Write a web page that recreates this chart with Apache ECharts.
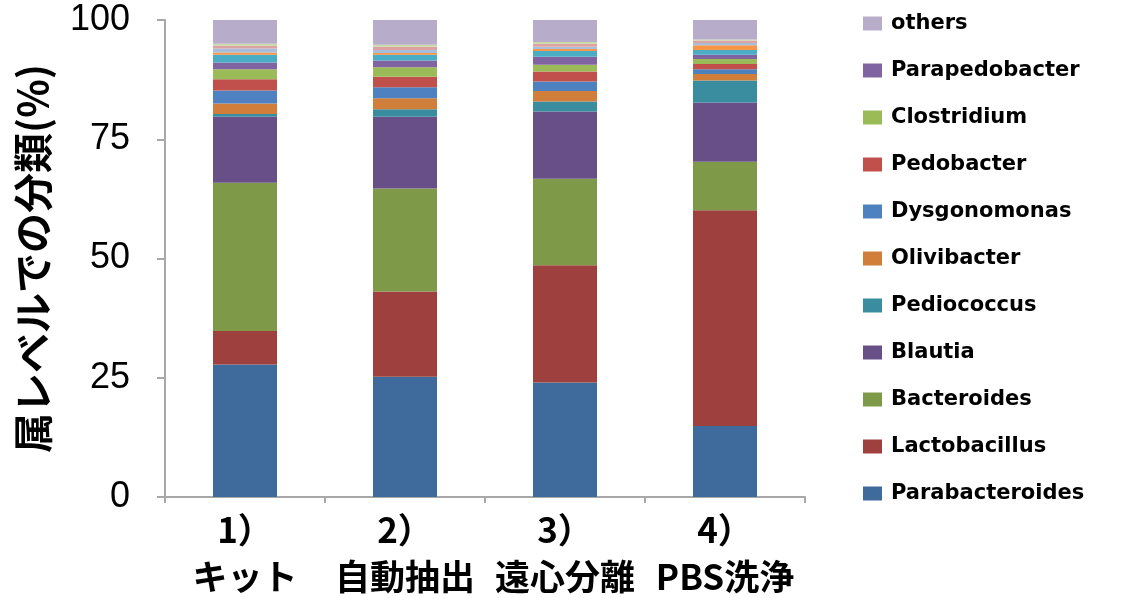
<!DOCTYPE html>
<html>
<head>
<meta charset="utf-8">
<script src="https://cdn.jsdelivr.net/npm/echarts@6/dist/echarts.min.js"></script>
<style>
  html, body { margin: 0; padding: 0; background: #fff; }
  #chart { width: 1124px; height: 598px; }
</style>
</head>
<body>
<div id="chart"></div>
<script>
// Genus-level composition (%) for four sample preparation methods
const categories = ['1）\nキット', '2）\n自動抽出', '3）\n遠心分離', '4）\nPBS洗浄'];
const yTicks = [0, 25, 50, 75, 100];

const parabacteroides = [27.8, 25.2, 24.0, 14.9];
const lactobacillus   = [7.0, 17.9, 24.6, 45.2];
const bacteroides     = [31.1, 21.6, 18.1, 10.2];
const blautia         = [13.8, 15.0, 14.1, 12.4];
const pediococcus     = [0.6, 1.6, 2.1, 4.6];
const olivibacter     = [2.2, 2.3, 2.2, 1.4];
const dysgonomonas    = [2.7, 2.3, 2.0, 1.0];
const pedobacter      = [2.4, 2.2, 2.1, 1.1];
const clostridium     = [2.1, 2.0, 1.4, 1.0];
const parapedobacter  = [1.4, 1.4, 1.7, 0.9];
// smaller genera stacked below "others" without their own legend entry
const minorGenus1     = [1.6, 1.2, 1.2, 1.0];
const minorGenus2     = [0.5, 0.4, 0.4, 1.0];
const minorGenus3     = [0.8, 0.6, 0.5, 0.5];
const minorGenus4     = [0.6, 0.7, 0.6, 0.5];
const minorGenus5     = [0.4, 0.4, 0.4, 0.2];
const others          = [5.0, 5.2, 4.6, 4.1];

const stackOrder = [
  { name: 'Parabacteroides', data: parabacteroides, color: '#3F6A9C' },
  { name: 'Lactobacillus',   data: lactobacillus,   color: '#9E413E' },
  { name: 'Bacteroides',     data: bacteroides,     color: '#7E9A48' },
  { name: 'Blautia',         data: blautia,         color: '#694F87' },
  { name: 'Pediococcus',     data: pediococcus,     color: '#3A8C9F' },
  { name: 'Olivibacter',     data: olivibacter,     color: '#D17E3A' },
  { name: 'Dysgonomonas',    data: dysgonomonas,    color: '#4E81C0' },
  { name: 'Pedobacter',      data: pedobacter,      color: '#C1504D' },
  { name: 'Clostridium',     data: clostridium,     color: '#9BBB59' },
  { name: 'Parapedobacter',  data: parapedobacter,  color: '#8064A2' },
  { name: '',                data: minorGenus1,     color: '#4BACC6' },
  { name: '',                data: minorGenus2,     color: '#F79646' },
  { name: '',                data: minorGenus3,     color: '#A7BEDC' },
  { name: '',                data: minorGenus4,     color: '#DDA3A2' },
  { name: '',                data: minorGenus5,     color: '#C8D9A6' },
  { name: 'others',          data: others,          color: '#B8ACCB' }
];

const legendNames = ['others', 'Parapedobacter', 'Clostridium', 'Pedobacter', 'Dysgonomonas',
  'Olivibacter', 'Pediococcus', 'Blautia', 'Bacteroides', 'Lactobacillus', 'Parabacteroides'];

const chart = echarts.init(document.getElementById('chart'), null, { renderer: 'canvas' });

const axisGray = '#A8A8A8';

chart.setOption({
  animation: false,
  backgroundColor: '#ffffff',
  grid: { left: 165, right: 319, top: 20, bottom: 101, containLabel: false, outerBoundsMode: 'none' },
  legend: {
    orient: 'vertical',
    left: 858,
    top: 8,
    itemWidth: 19,
    itemHeight: 14,
    itemGap: 26,
    icon: 'rect',
    data: legendNames,
    textStyle: {
      fontFamily: 'DejaVu Sans',
      fontWeight: 'bold',
      fontSize: 21,
      lineHeight: 21,
      color: '#000',
      padding: [0, 0, 0, 4]
    }
  },
  xAxis: {
    type: 'category',
    data: categories,
    axisLine: { lineStyle: { color: axisGray, width: 2 } },
    axisTick: { show: true, length: 6, lineStyle: { color: axisGray, width: 2 } },
    axisLabel: {
      interval: 0,
      margin: 9,
      color: '#000',
      fontFamily: 'Noto Sans CJK JP',
      fontWeight: 'bold',
      fontSize: 35,
      lineHeight: 47
    }
  },
  yAxis: {
    type: 'value',
    min: yTicks[0],
    max: yTicks[yTicks.length - 1],
    interval: 25,
    name: '属レベルでの分類(%)',
    nameLocation: 'middle',
    nameRotate: 90,
    nameGap: 112,
    nameTextStyle: {
      color: '#000',
      fontFamily: 'Noto Sans CJK JP',
      fontWeight: 'bold',
      fontSize: 40
    },
    splitLine: { show: false },
    axisLine: { show: true, lineStyle: { color: axisGray, width: 2 } },
    axisTick: { show: true, length: 8, lineStyle: { color: axisGray, width: 2 } },
    axisLabel: {
      margin: 35,
      color: '#000',
      fontFamily: 'Liberation Sans',
      fontSize: 36
    }
  },
  series: stackOrder.map(s => ({
    type: 'bar',
    name: s.name,
    stack: 'genus',
    data: s.data,
    barWidth: 64,
    itemStyle: { color: s.color },
    emphasis: { disabled: true }
  }))
});
</script>
</body>
</html>
